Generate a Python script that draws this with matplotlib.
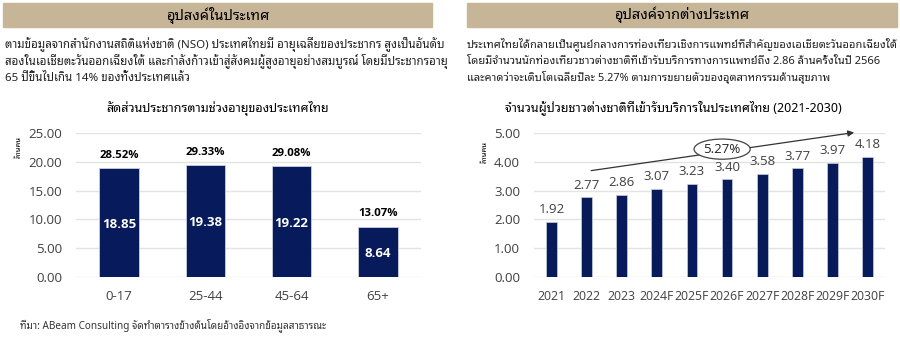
import matplotlib
matplotlib.use("Agg")
import matplotlib.pyplot as plt
from matplotlib.patches import Rectangle, Ellipse

TH = ['Noto Sans Thai Looped', 'Noto Sans']
NUM = ['Open Sans', 'Noto Sans Thai Looped']

# left chart data
age_groups = ['0-17', '25-44', '45-64', '65+']
population = [18.85, 19.38, 19.22, 8.64]
pop_share = ['28.52%', '29.33%', '29.08%', '13.07%']

# right chart data
years = ['2021', '2022', '2023', '2024F', '2025F', '2026F', '2027F', '2028F', '2029F', '2030F']
patients = [1.92, 2.77, 2.86, 3.07, 3.23, 3.40, 3.58, 3.77, 3.97, 4.18]
cagr = '5.27%'

navy = '#061a5c'
tan = '#c6b697'
grid_c = '#e3e3e3'
txt_c = '#404040'

fig = plt.figure(figsize=(9, 3.39), dpi=100)

# header bands
for x0, w, title in [(3, 429, 'อุปสงค์ในประเทศ'), (467, 430, 'อุปสงค์จากต่างประเทศ')]:
    fig.patches.append(Rectangle((x0 / 900, 1 - 27 / 339), w / 900, 24 / 339,
                                 transform=fig.transFigure, color=tan, zorder=0))
    fig.text((x0 + w / 2) / 900, 1 - 15 / 339, title, ha='center', va='center',
             fontsize=10.5, fontweight='bold', family=TH)

left_par = ['ตามข้อมูลจากสำนักงานสถิติแห่งชาติ (NSO) ประเทศไทยมี อายุเฉลี่ยของประชากร สูงเป็นอันดับ',
            'สองในเอเชียตะวันออกเฉียงใต้ และกำลังก้าวเข้าสู่สังคมผู้สูงอายุอย่างสมบูรณ์ โดยมีประชากรอายุ',
            '65 ปีขึ้นไปเกิน 14% ของทั้งประเทศแล้ว']
right_par = ['ประเทศไทยได้กลายเป็นศูนย์กลางการท่องเที่ยวเชิงการแพทย์ที่สำคัญของเอเชียตะวันออกเฉียงใต้',
             'โดยมีจำนวนนักท่องเที่ยวชาวต่างชาติที่เข้ารับบริการทางการแพทย์ถึง 2.86 ล้านครั้งในปี 2566',
             'และคาดว่าจะเติบโตเฉลี่ยปีละ 5.27% ตามการขยายตัวของอุตสาหกรรมด้านสุขภาพ']
for x0, lines, fs in [(5, left_par, 8.3), (467, right_par, 7.95)]:
    for i, line in enumerate(lines):
        fig.text(x0 / 900, 1 - (44 + 17 * i) / 339, line, ha='left', va='center',
                 fontsize=fs, family=TH, color='#222222')

fig.text(218 / 900, 1 - 108 / 339, 'สัดส่วนประชากรตามช่วงอายุของประเทศไทย', ha='center', va='center',
         fontsize=9, fontweight='bold', family=TH)
fig.text(673 / 900, 1 - 108 / 339, 'จำนวนผู้ป่วยชาวต่างชาติที่เข้ารับบริการในประเทศไทย (2021-2030)',
         ha='center', va='center', fontsize=9, fontweight='bold', family=TH)
fig.text(20 / 900, 1 - 325 / 339, 'ที่มา: ABeam Consulting จัดทำตารางข้างต้นโดยอ้างอิงจากข้อมูลสาธารณะ',
         ha='left', va='center', fontsize=7.2, family=TH, color='#333333')


def style(ax, ylim, step):
    ax.set_ylim(0, ylim)
    ax.set_yticks([step * i for i in range(int(round(ylim / step)) + 1)])
    ax.set_yticklabels([f'{step * i:.2f}' for i in range(int(round(ylim / step)) + 1)])
    ax.grid(axis='y', color=grid_c, linewidth=1)
    ax.set_axisbelow(True)
    for s in ax.spines.values():
        s.set_visible(False)
    ax.tick_params(length=0, labelsize=9.5, labelcolor=txt_c, pad=10)
    ax.tick_params(axis='x', pad=9)
    for lab in ax.get_xticklabels() + ax.get_yticklabels():
        lab.set_family(NUM)


# left chart
ax1 = fig.add_axes([76 / 900, 1 - 277 / 339, 345 / 900, 144 / 339])
ax1.bar(range(len(age_groups)), population, width=0.46, color=navy, edgecolor='#c9cfe0', linewidth=0.6)
ax1.set_xlim(-0.5, len(age_groups) - 0.5)
ax1.set_xticks(range(len(age_groups)))
ax1.set_xticklabels(age_groups)
style(ax1, 25, 5)
for i, (v, p) in enumerate(zip(population, pop_share)):
    ax1.text(i, v / 2 - 0.3, f'{v:.2f}', ha='center', va='center', color='white',
             fontsize=9.5, fontweight='bold', family=NUM)
    ax1.text(i, v + 2.3, p, ha='center', va='center', color='black',
             fontsize=8.2, fontweight='bold', family=NUM)
ax1.set_ylabel('ล้านคน', family=TH, fontsize=5.5, labelpad=2)
ax1.yaxis.set_label_coords(-0.155, 0.9)

# right chart
ax2 = fig.add_axes([534 / 900, 1 - 277 / 339, 351 / 900, 144 / 339])
ax2.bar(range(len(years)), patients, width=0.31, color=navy, edgecolor='#c9cfe0', linewidth=0.5)
ax2.set_xlim(-0.5, len(years) - 0.5)
ax2.set_xticks(range(len(years)))
ax2.set_xticklabels(years)
style(ax2, 5, 1)
for lab in ax2.get_xticklabels():
    lab.set_fontsize(8.8)
for i, v in enumerate(patients):
    ax2.annotate(f'{v:.2f}', (i, v), xytext=(0, 4), textcoords='offset points',
                 ha='center', va='bottom', fontsize=9.5, color=txt_c, family=NUM)
ax2.set_ylabel('ล้านคน', family=TH, fontsize=5.5, labelpad=2)
ax2.yaxis.set_label_coords(-0.13, 0.87)

# growth arrow with CAGR bubble
ax2.annotate('', xy=(8.7, 5.03), xytext=(1.05, 3.68),
             arrowprops=dict(arrowstyle='-|>', color='#333333', lw=0.9, mutation_scale=9),
             annotation_clip=False)
ax2.add_patch(Ellipse((4.86, 4.44), 1.6, 0.7, facecolor='white', edgecolor='#444444',
                      linewidth=0.9, zorder=5, clip_on=False))
ax2.text(4.86, 4.44, cagr, ha='center', va='center', fontsize=9.5, color='#222222',
         family=NUM, zorder=6)

fig.savefig('out.png', dpi=100)
